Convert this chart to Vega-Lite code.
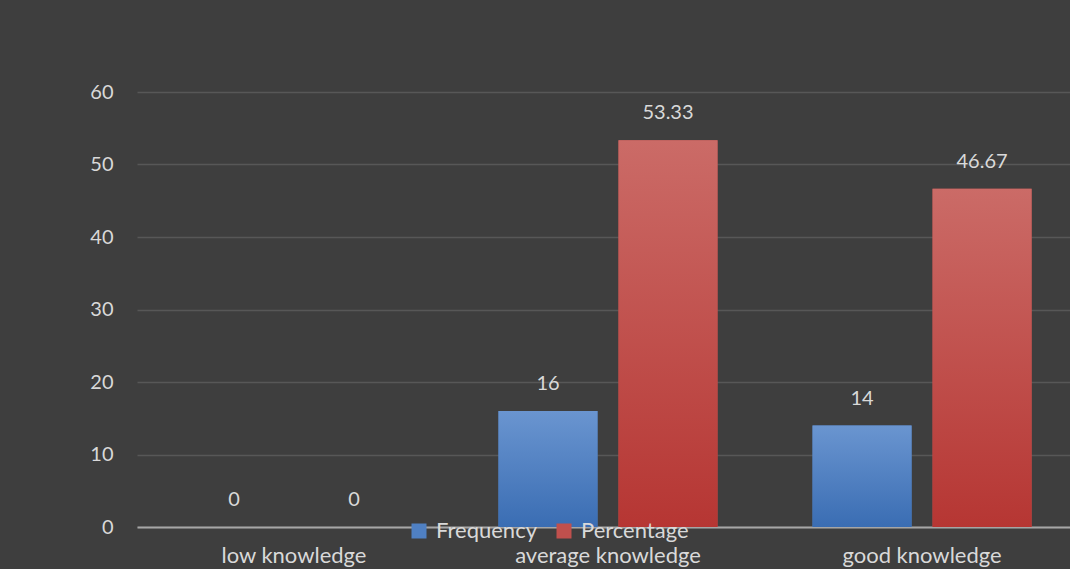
{
  "$schema": "https://vega.github.io/schema/vega-lite/v6.json",
  "autosize": {"type": "none"},
  "width": 933,
  "height": 435,
  "padding": {"left": 137, "top": 92, "right": 0, "bottom": 42},
  "background": "#3e3e3e",
  "config": {
    "view": {"stroke": null},
    "font": "Lato",
    "axis": {"labelFont": "Lato", "labelColor": "#d9d9d9", "labelFontSize": 20, "title": null}
  },
  "data": {
    "values": [
      {"category": "low knowledge", "series": "Frequency", "value": 0},
      {"category": "low knowledge", "series": "Percentage", "value": 0},
      {"category": "average knowledge", "series": "Frequency", "value": 16},
      {"category": "average knowledge", "series": "Percentage", "value": 53.33},
      {"category": "good knowledge", "series": "Frequency", "value": 14},
      {"category": "good knowledge", "series": "Percentage", "value": 46.67}
    ]
  },
  "encoding": {
    "x": {
      "field": "category", "type": "nominal", "sort": null,
      "scale": {"range": [0, 942], "paddingInner": 0.3025, "paddingOuter": 0.151},
      "axis": {"labelAngle": 0, "ticks": false, "domainColor": "#a6a6a6", "domainWidth": 2, "labelPadding": 18, "labelFontSize": 22, "labelLimit": 400, "labelOverlap": false}
    },
    "xOffset": {"field": "series", "type": "nominal", "scale": {"paddingInner": 0.175, "paddingOuter": 0}},
    "y": {
      "field": "value", "type": "quantitative",
      "scale": {"domain": [0, 60], "nice": false},
      "axis": {"values": [0, 10, 20, 30, 40, 50, 60], "domain": false, "ticks": false, "labelPadding": 24, "gridColor": "#ffffff", "gridOpacity": 0.13, "gridWidth": 1.5}
    }
  },
  "layer": [
    {
      "mark": {"type": "bar"},
      "encoding": {
        "color": {
          "field": "series", "type": "nominal",
          "scale": {"domain": ["Frequency", "Percentage"], "range": ["#4f80c3", "#c0504d"]},
          "legend": {
            "orient": "none", "legendX": 271, "legendY": 428, "direction": "horizontal",
            "title": null, "symbolType": "square", "symbolSize": 225, "symbolStrokeWidth": 0, "symbolOpacity": 1,
            "labelFont": "Lato", "labelFontSize": 22, "labelColor": "#d9d9d9", "labelOffset": 6,
            "columnPadding": 16, "padding": 0
          }
        }
      }
    },
    {
      "transform": [{"filter": "datum.series === 'Frequency'"}],
      "mark": {"type": "bar", "fill": {"gradient": "linear", "x1": 0, "y1": 0, "x2": 0, "y2": 1, "stops": [{"offset": 0, "color": "#6a95d0"}, {"offset": 1, "color": "#3a6db3"}]}}
    },
    {
      "transform": [{"filter": "datum.series === 'Percentage'"}],
      "mark": {"type": "bar", "fill": {"gradient": "linear", "x1": 0, "y1": 0, "x2": 0, "y2": 1, "stops": [{"offset": 0, "color": "#cb6b67"}, {"offset": 1, "color": "#b63633"}]}}
    },
    {
      "mark": {"type": "text", "dy": -27, "baseline": "middle", "fontSize": 20, "color": "#d9d9d9", "font": "Lato"},
      "encoding": {"text": {"field": "value", "type": "nominal"}}
    }
  ]
}
